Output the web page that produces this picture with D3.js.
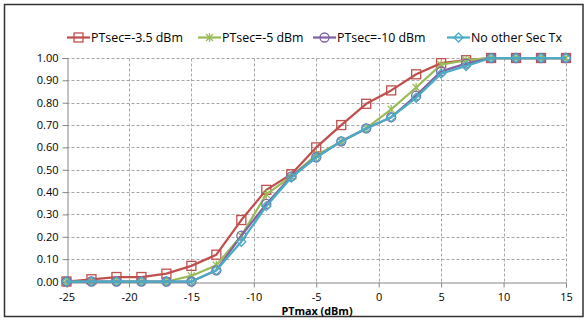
<!DOCTYPE html>
<html><head><meta charset="utf-8">
<script src="https://cdn.jsdelivr.net/npm/d3@7/dist/d3.min.js"></script>
<style>body{margin:0;background:#fff}svg{display:block}text{font-family:"Open Sans",Lato,sans-serif}</style>
</head><body><svg id="c" width="585" height="321"></svg>
<script>
const xValues = [-25,-23,-21,-19,-17,-15,-13,-11,-9,-7,-5,-3,-1,1,3,5,7,9,11,13,15];
const seriesNames = ["PTsec=-3.5 dBm","PTsec=-5 dBm","PTsec=-10 dBm","No other Sec Tx"];
const sRed    = [0,0.01,0.02,0.02,0.035,0.07,0.12,0.275,0.41,0.48,0.60,0.70,0.795,0.855,0.927,0.977,0.99,1,1,1,1];
const sGreen  = [0,0,0,0,0,0.025,0.073,0.205,0.39,0.47,0.565,0.625,0.685,0.77,0.868,0.97,0.99,1,1,1,1];
const sPurple = [0,0,0,0,0,0,0.05,0.205,0.347,0.47,0.556,0.627,0.685,0.735,0.832,0.94,0.975,1,1,1,1];
const sBlue   = [0,0,0,0,0,0,0.05,0.178,0.337,0.465,0.555,0.628,0.685,0.735,0.822,0.93,0.964,1,1,1,1];
const xTicks = [-25,-20,-15,-10,-5,0,5,10,15];
const yTicks = [0,0.1,0.2,0.3,0.4,0.5,0.6,0.7,0.8,0.9,1.0];
const xTitle = "PTmax (dBm)";

const colors = ["#C0504D","#9BBB59","#8064A2","#4BACC6"];
const markers = ["square","star","circle","diamond"];
const series = [sRed,sGreen,sPurple,sBlue];

const svg = d3.select("#c");
svg.append("rect").attr("x",4.5).attr("y",4.5).attr("width",578.5).attr("height",312)
  .attr("fill","none").attr("stroke","#333").attr("stroke-width",1.5);

const x = d3.scaleLinear().domain([-25,15]).range([66.5,566]);
const y = d3.scaleLinear().domain([0,1]).range([281.5,58]);

// grid
const g = svg.append("g");
g.selectAll(".hg").data(yTicks.slice(1)).enter().append("line")
  .attr("x1",x(-25)).attr("x2",x(15)).attr("y1",d=>Math.round(y(d))+0.5).attr("y2",d=>Math.round(y(d))+0.5)
  .attr("stroke","#a6a6a6").attr("stroke-dasharray","3,2").attr("stroke-width",1);
g.selectAll(".vg").data(xTicks.slice(1)).enter().append("line")
  .attr("y1",y(0)).attr("y2",y(1)).attr("x1",d=>Math.round(x(d))+0.5).attr("x2",d=>Math.round(x(d))+0.5)
  .attr("stroke","#a6a6a6").attr("stroke-dasharray","3,2").attr("stroke-width",1);

// axes
const yAxis = svg.append("g").attr("transform",`translate(${Math.round(x(-25))+0.5},0)`)
  .call(d3.axisLeft(y).tickValues(yTicks).tickFormat(d3.format(".2f")).tickSize(5).tickPadding(4));
const xAxis = svg.append("g").attr("transform",`translate(0,${Math.round(y(0))+0.5})`)
  .call(d3.axisBottom(x).tickValues(xTicks).tickSize(5).tickPadding(6));
[yAxis,xAxis].forEach(a=>{
  a.select(".domain").attr("stroke","#868686");
  a.selectAll(".tick line").attr("stroke","#868686");
  a.selectAll("text").attr("fill","#000").style("font-size","11px").style("font-family","'Open Sans',sans-serif");
});
xAxis.selectAll("text").text(d=>d<0?"-"+Math.abs(d):d);

svg.append("text").attr("x",317).attr("y",315).attr("text-anchor","middle")
  .style("font-size","10.8px").style("font-weight","bold").text(xTitle);

function drawMarker(sel, type, color){
  if(type==="square") sel.append("rect").attr("x",-4.5).attr("y",-4.5).attr("width",9).attr("height",9)
      .attr("fill","none").attr("stroke",color).attr("stroke-width",1.3);
  else if(type==="circle") sel.append("circle").attr("r",4.5).attr("fill","none").attr("stroke",color).attr("stroke-width",1.3);
  else if(type==="diamond") sel.append("path").attr("d","M0,-4.5L4.5,0L0,4.5L-4.5,0Z").attr("fill","none").attr("stroke",color).attr("stroke-width",1.3);
  else if(type==="star") sel.append("path").attr("d","M-3.5,-3.5L3.5,3.5M-3.5,3.5L3.5,-3.5M0,-4.5L0,4.5").attr("fill","none").attr("stroke",color).attr("stroke-width",1.3);
}

const line = d3.line().x((d,i)=>x(xValues[i])).y(d=>y(d));
series.forEach((s,k)=>{
  const gg = svg.append("g");
  gg.append("path").datum(s).attr("d",line).attr("fill","none").attr("stroke",colors[k]).attr("stroke-width",2.25).attr("stroke-linejoin","round");
  gg.selectAll("g.m").data(s).enter().append("g").attr("transform",(d,i)=>`translate(${x(xValues[i])},${y(d)})`)
    .each(function(){ drawMarker(d3.select(this), markers[k], colors[k]); });
});

// legend
const legX = [67,198,313,447];
seriesNames.forEach((n,k)=>{
  const lg = svg.append("g").attr("transform",`translate(${legX[k]},37.5)`);
  lg.append("line").attr("x1",0).attr("x2",23).attr("stroke",colors[k]).attr("stroke-width",2.25);
  const m = lg.append("g").attr("transform","translate(11.5,0)");
  drawMarker(m, markers[k], colors[k]);
  lg.append("text").attr("x",24).attr("y",4.6).style("font-size","12.4px").text(n);
});
</script></body></html>
